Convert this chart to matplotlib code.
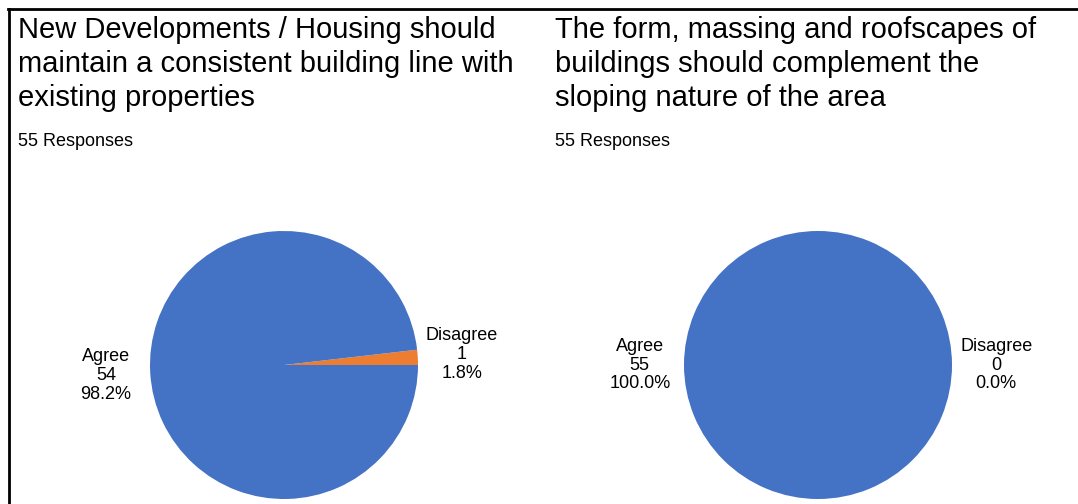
import matplotlib.pyplot as plt
from matplotlib.lines import Line2D

# Survey data
titles = ['New Developments / Housing should\nmaintain a consistent building line with\nexisting properties',
          'The form, massing and roofscapes of\nbuildings should complement the\nsloping nature of the area']
responses = [55, 55]
categories = ['Agree', 'Disagree']
counts_q1 = [54, 1]
counts_q2 = [55, 0]
colors = ['#4472C4', '#ED7D31']

plt.rcParams['font.family'] = ['Liberation Sans', 'DejaVu Sans']

W, H = 1078, 504
fig = plt.figure(figsize=(W / 100, H / 100), dpi=100)

# Frame lines (left and top)
fig.add_artist(Line2D([8.5 / W, 8.5 / W], [0, 1 - 8.5 / H], color='black', lw=2))
fig.add_artist(Line2D([7.5 / W, 1], [1 - 8.5 / H, 1 - 8.5 / H], color='black', lw=2))

title_x = [18, 555]
pie_cx = [284, 818]
pie_cy = 365
radius = 134

for k, counts in enumerate([counts_q1, counts_q2]):
    fig.text(title_x[k] / W, 1 - 16.5 / H, titles[k], fontsize=21, va='top', ha='left',
             linespacing=1.25)
    fig.text(title_x[k] / W, 1 - 141 / H, '%d Responses' % responses[k], fontsize=13,
             va='center', ha='left')

    ax = fig.add_axes([(pie_cx[k] - radius) / W, 1 - (pie_cy + radius) / H,
                       2 * radius / W, 2 * radius / H])
    total = sum(counts)
    # draw Disagree first so it sits just above 3 o'clock
    order = [1, 0]
    vals = [counts[i] for i in order]
    labs = ['%s\n%d\n%.1f%%' % (categories[i], counts[i], 100.0 * counts[i] / total)
            for i in order]
    wedges, texts = ax.pie(vals, labels=labs, colors=[colors[i] for i in order],
                           startangle=0, counterclock=True, radius=1,
                           labeldistance=1.33, wedgeprops={'linewidth': 0},
                           textprops={'fontsize': 13})
    for t in texts:
        t.set_ha('center')
        t.set_va('center')
        t.set_multialignment('center')
        t.set_linespacing(1.15)
    ax.set_xlim(-1, 1)
    ax.set_ylim(-1, 1)
    ax.set_aspect('equal')
    ax.axis('off')

fig.savefig('out.png', dpi=100)
